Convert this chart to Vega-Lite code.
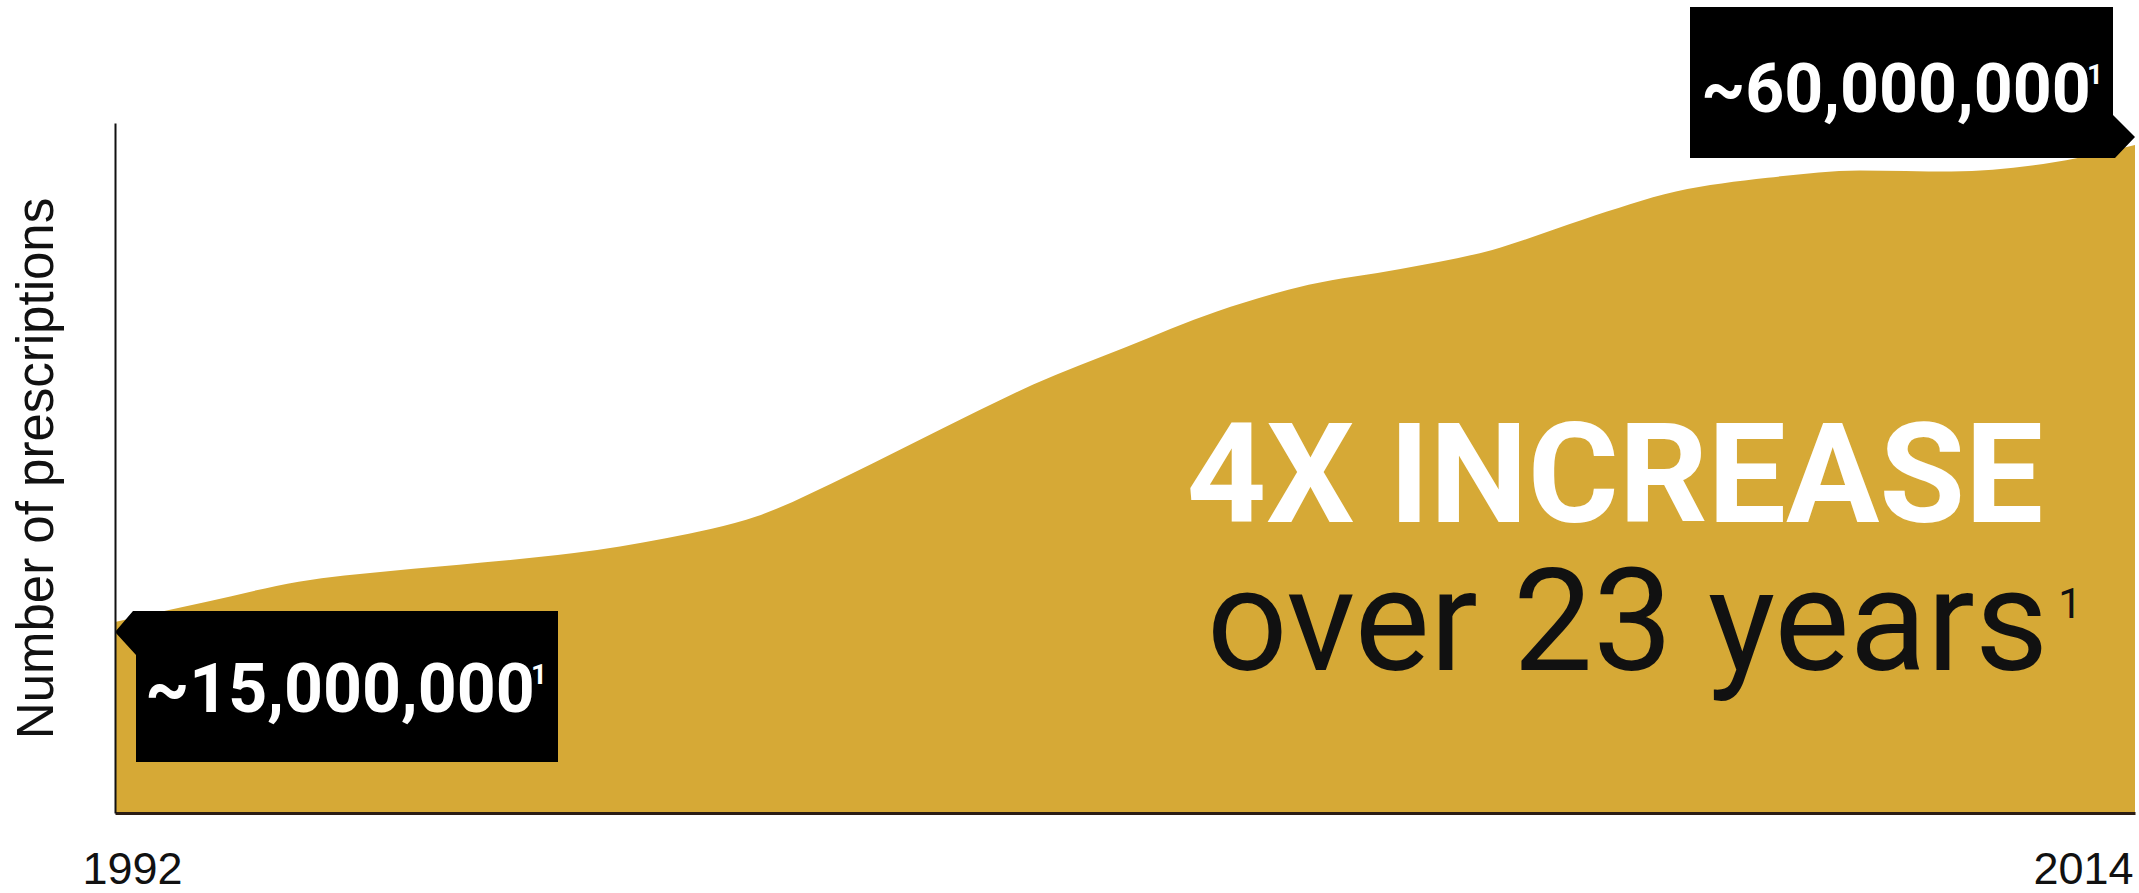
{
  "$schema": "https://vega.github.io/schema/vega-lite/v6.json",
  "width": 2020,
  "height": 690,
  "autosize": {"type": "none"},
  "padding": {"left": 115, "top": 123, "right": 4, "bottom": 80},
  "background": "white",
  "config": {"view": {"stroke": null}},
  "datasets": {
    "series": [
      {"year": 1992, "value": 15.0},
      {"year": 1993, "value": 16.9},
      {"year": 1994, "value": 18.8},
      {"year": 1995, "value": 19.8},
      {"year": 1996, "value": 20.6},
      {"year": 1997, "value": 21.5},
      {"year": 1998, "value": 22.9},
      {"year": 1999, "value": 25.0},
      {"year": 2000, "value": 28.9},
      {"year": 2001, "value": 33.2},
      {"year": 2002, "value": 37.4},
      {"year": 2003, "value": 40.9},
      {"year": 2004, "value": 44.3},
      {"year": 2005, "value": 46.8},
      {"year": 2006, "value": 48.3},
      {"year": 2007, "value": 50.1},
      {"year": 2008, "value": 53.0},
      {"year": 2009, "value": 55.6},
      {"year": 2010, "value": 56.9},
      {"year": 2011, "value": 57.6},
      {"year": 2012, "value": 57.5},
      {"year": 2013, "value": 58.2},
      {"year": 2014, "value": 60.0}
    ],
    "labels": [
      {"year": 1992, "value": 15, "text": "~15,000,000", "note": "1"},
      {"year": 2014, "value": 60, "text": "~60,000,000", "note": "1"}
    ],
    "headline": [
      {"year": 2013.0, "value": 24.43, "text": "4X INCREASE"}
    ],
    "subline": [
      {"year": 2013.0, "value": 10.47, "text": "over 23 years", "note": "1"}
    ]
  },
  "layer": [
    {
      "data": {"name": "series"},
      "mark": {"type": "area", "interpolate": "monotone", "color": "#D6A936", "opacity": 1},
      "encoding": {
        "x": {
          "field": "year", "type": "quantitative",
          "scale": {"domain": [1992, 2014], "nice": false, "zero": false},
          "axis": {
            "values": [1992, 2014], "format": "d", "title": null,
            "domainColor": "#2b1d14", "domainWidth": 3, "ticks": false, "grid": false,
            "labelFont": "Liberation Sans", "labelFontSize": 45, "labelColor": "#111111",
            "labelPadding": 70, "labelBaseline": "alphabetic", "labelFlush": false,
            "labelAlign": "center",
            "labelOffset": {"condition": {"test": "datum.value < 2000", "value": 17}, "value": -52},
            "zindex": 2
          }
        },
        "y": {
          "field": "value", "type": "quantitative",
          "scale": {"domain": [-3.02, 62.07], "nice": false, "zero": false},
          "axis": {
            "title": "Number of prescriptions", "labels": false, "ticks": false, "grid": false,
            "domainColor": "#111111", "domainWidth": 2,
            "titleFont": "Liberation Sans", "titleFontSize": 51, "titleFontWeight": "normal",
            "titleColor": "#111111", "titlePadding": 52, "zindex": 2
          }
        },
        "y2": {"datum": -3.02}
      }
    },
    {
      "data": {"name": "labels"},
      "transform": [{"filter": "datum.year == 2014"}],
      "mark": {"type": "point", "shape": "M-445,-138 L-22,-138 L-22,-30 L0,-8 L-20,13 L-445,13 Z", "filled": true, "color": "#000000", "opacity": 1, "size": 4, "strokeWidth": 0, "clip": false},
      "encoding": {
        "x": {"field": "year", "type": "quantitative"},
        "y": {"field": "value", "type": "quantitative"}
      }
    },
    {
      "data": {"name": "labels"},
      "transform": [{"filter": "datum.year == 1992"}],
      "mark": {"type": "point", "shape": "M18,-11 L443,-11 L443,140 L21,140 L21,33 L0,10 Z", "filled": true, "color": "#000000", "opacity": 1, "size": 4, "strokeWidth": 0, "clip": false},
      "encoding": {
        "x": {"field": "year", "type": "quantitative"},
        "y": {"field": "value", "type": "quantitative"}
      }
    },
    {
      "data": {"name": "labels"},
      "transform": [{"filter": "datum.year == 2014"}],
      "mark": {"type": "text", "align": "center", "baseline": "alphabetic", "dx": -239, "dy": -33, "font": "Roboto", "fontWeight": "bold", "fontSize": 68, "color": "#ffffff"},
      "encoding": {
        "x": {"field": "year", "type": "quantitative"},
        "y": {"field": "value", "type": "quantitative"},
        "text": {"field": "text"}
      }
    },
    {
      "data": {"name": "labels"},
      "transform": [{"filter": "datum.year == 2014"}],
      "mark": {"type": "text", "align": "left", "baseline": "alphabetic", "dx": -48, "dy": -61, "font": "Roboto", "fontWeight": "bold", "fontSize": 28, "color": "#ffffff"},
      "encoding": {
        "x": {"field": "year", "type": "quantitative"},
        "y": {"field": "value", "type": "quantitative"},
        "text": {"field": "note"}
      }
    },
    {
      "data": {"name": "labels"},
      "transform": [{"filter": "datum.year == 1992"}],
      "mark": {"type": "text", "align": "center", "baseline": "alphabetic", "dx": 225, "dy": 90, "font": "Roboto", "fontWeight": "bold", "fontSize": 68, "color": "#ffffff"},
      "encoding": {
        "x": {"field": "year", "type": "quantitative"},
        "y": {"field": "value", "type": "quantitative"},
        "text": {"field": "text"}
      }
    },
    {
      "data": {"name": "labels"},
      "transform": [{"filter": "datum.year == 1992"}],
      "mark": {"type": "text", "align": "left", "baseline": "alphabetic", "dx": 416, "dy": 62, "font": "Roboto", "fontWeight": "bold", "fontSize": 28, "color": "#ffffff"},
      "encoding": {
        "x": {"field": "year", "type": "quantitative"},
        "y": {"field": "value", "type": "quantitative"},
        "text": {"field": "note"}
      }
    },
    {
      "data": {"name": "headline"},
      "mark": {"type": "text", "align": "right", "baseline": "alphabetic", "font": "Roboto", "fontWeight": "bold", "fontSize": 139, "color": "#ffffff"},
      "encoding": {
        "x": {"field": "year", "type": "quantitative"},
        "y": {"field": "value", "type": "quantitative"},
        "text": {"field": "text"}
      }
    },
    {
      "data": {"name": "subline"},
      "mark": {"type": "text", "align": "right", "baseline": "alphabetic", "dx": 5, "font": "Roboto", "fontWeight": "normal", "fontSize": 142, "color": "#111111"},
      "encoding": {
        "x": {"field": "year", "type": "quantitative"},
        "y": {"field": "value", "type": "quantitative"},
        "text": {"field": "text"}
      }
    },
    {
      "data": {"name": "subline"},
      "mark": {"type": "text", "align": "left", "baseline": "alphabetic", "dx": 15, "dy": -52, "font": "Roboto", "fontWeight": "normal", "fontSize": 42, "color": "#111111"},
      "encoding": {
        "x": {"field": "year", "type": "quantitative"},
        "y": {"field": "value", "type": "quantitative"},
        "text": {"field": "note"}
      }
    }
  ]
}
